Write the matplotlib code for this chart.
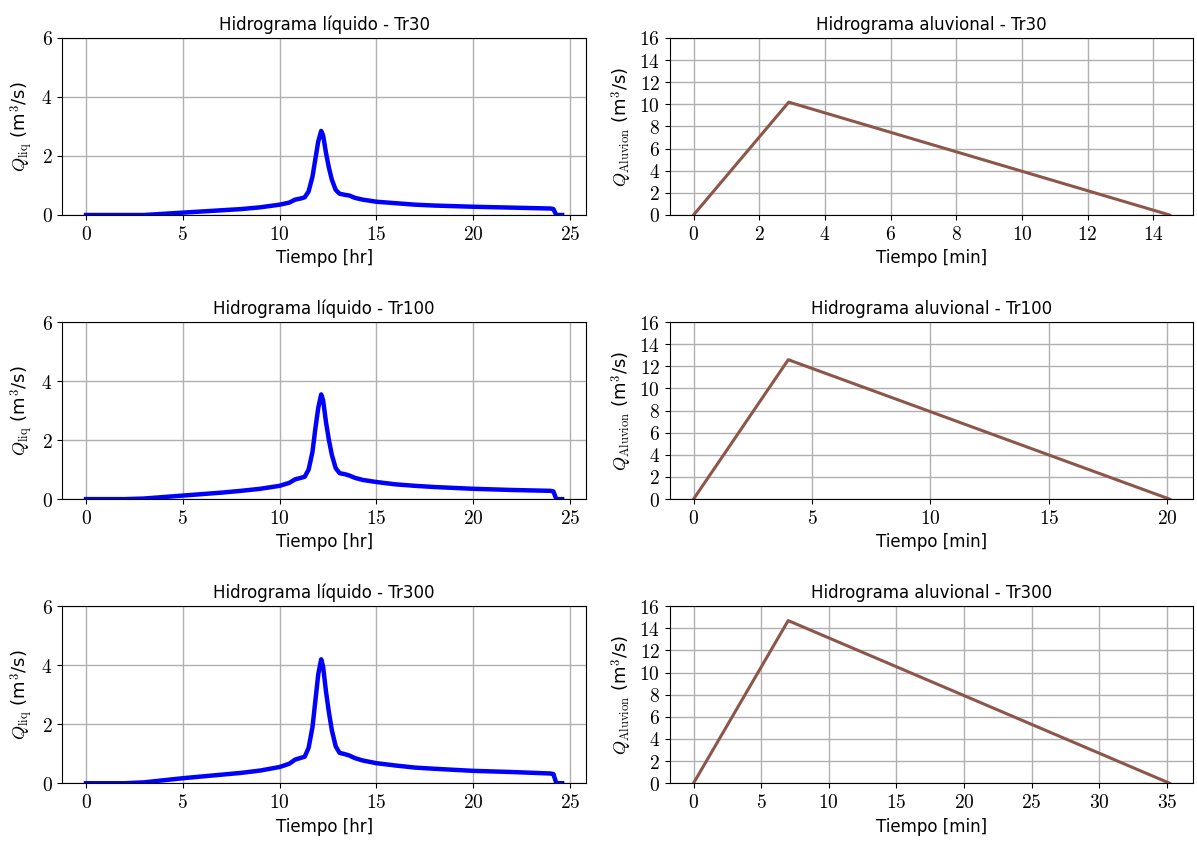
import matplotlib
matplotlib.use('Agg')
import matplotlib.pyplot as plt
from matplotlib.ticker import FuncFormatter, MultipleLocator

plt.rcParams['mathtext.fontset'] = 'cm'
plt.rcParams['font.family'] = ['DejaVu Sans']

# liquid hydrographs (time in hr, flow in m3/s)
t_liq = [0, 2, 3, 4, 5, 6, 7, 8, 9, 10, 10.5, 10.8, 11.1, 11.3, 11.5, 11.7, 11.85,
         12.0, 12.15, 12.25, 12.4, 12.55, 12.7, 12.9, 13.1, 13.4, 13.6, 13.9, 14.3,
         15, 16, 17, 18, 20, 22, 24, 24.15, 24.3, 24.6]
q_tr30 = [0, 0, 0.0, 0.04, 0.08, 0.12, 0.16, 0.2, 0.26, 0.35, 0.42, 0.52, 0.56, 0.6,
          0.8, 1.3, 1.9, 2.5, 2.85, 2.7, 2.1, 1.6, 1.2, 0.85, 0.72, 0.68, 0.66, 0.58,
          0.52, 0.45, 0.4, 0.35, 0.32, 0.28, 0.25, 0.22, 0.2, 0.0, 0.0]
q_tr100 = [0, 0, 0.02, 0.07, 0.12, 0.17, 0.22, 0.28, 0.35, 0.45, 0.55, 0.67, 0.72, 0.76,
           1.0, 1.6, 2.4, 3.1, 3.55, 3.35, 2.6, 2.0, 1.5, 1.05, 0.88, 0.84, 0.8, 0.72,
           0.65, 0.58, 0.5, 0.45, 0.41, 0.35, 0.31, 0.28, 0.26, 0.0, 0.0]
q_tr300 = [0, 0, 0.03, 0.1, 0.17, 0.23, 0.29, 0.35, 0.43, 0.55, 0.66, 0.8, 0.86, 0.9,
           1.2, 1.9, 2.8, 3.7, 4.2, 3.95, 3.1, 2.4, 1.8, 1.25, 1.03, 0.98, 0.94, 0.85,
           0.77, 0.68, 0.6, 0.53, 0.49, 0.42, 0.38, 0.33, 0.31, 0.0, 0.0]

# aluvional hydrographs (time in min, flow in m3/s)
t_al30 = [0, 2.9, 14.5]
q_al30 = [0, 10.2, 0]
t_al100 = [0, 4.0, 20.1]
q_al100 = [0, 12.6, 0]
t_al300 = [0, 7.0, 35.2]
q_al300 = [0, 14.7, 0]

tr_names = ['Tr30', 'Tr100', 'Tr300']
liq = [q_tr30, q_tr100, q_tr300]
alu = [(t_al30, q_al30), (t_al100, q_al100), (t_al300, q_al300)]
alu_xstep = [2, 5, 5]

fig, axes = plt.subplots(3, 2, figsize=(11.97, 8.44), dpi=100)
fig.subplots_adjust(left=0.052, right=0.997, top=0.955, bottom=0.072,
                    hspace=0.605, wspace=0.16)

fmt = FuncFormatter(lambda v, p: f'${v:g}$')

for i, name in enumerate(tr_names):
    ax = axes[i, 0]
    ax.plot(t_liq, liq[i], color='blue', lw=3.2)
    ax.set_ylim(0, 6)
    ax.yaxis.set_major_locator(MultipleLocator(2))
    ax.xaxis.set_major_locator(MultipleLocator(5))
    ax.set_title(f'Hidrograma líquido - {name}', fontsize=12)
    ax.set_xlabel('Tiempo [hr]', fontsize=12)
    ax.set_ylabel(r'$\mathit{Q}_{\rm liq}$ (m$^3$/s)', fontsize=13)

    ax = axes[i, 1]
    ax.plot(alu[i][0], alu[i][1], color='#8c564b', lw=2.2)
    ax.set_ylim(0, 16)
    ax.yaxis.set_major_locator(MultipleLocator(2))
    ax.xaxis.set_major_locator(MultipleLocator(alu_xstep[i]))
    ax.set_title(f'Hidrograma aluvional - {name}', fontsize=12)
    ax.set_xlabel('Tiempo [min]', fontsize=12)
    ax.set_ylabel(r'$\mathit{Q}_{\rm Aluvion}$ (m$^3$/s)', fontsize=13)

for ax in axes.flat:
    ax.grid(True, color='#b0b0b0', lw=1)
    ax.xaxis.set_major_formatter(fmt)
    ax.yaxis.set_major_formatter(fmt)
    ax.tick_params(labelsize=14)

fig.savefig('out.png', dpi=100)
